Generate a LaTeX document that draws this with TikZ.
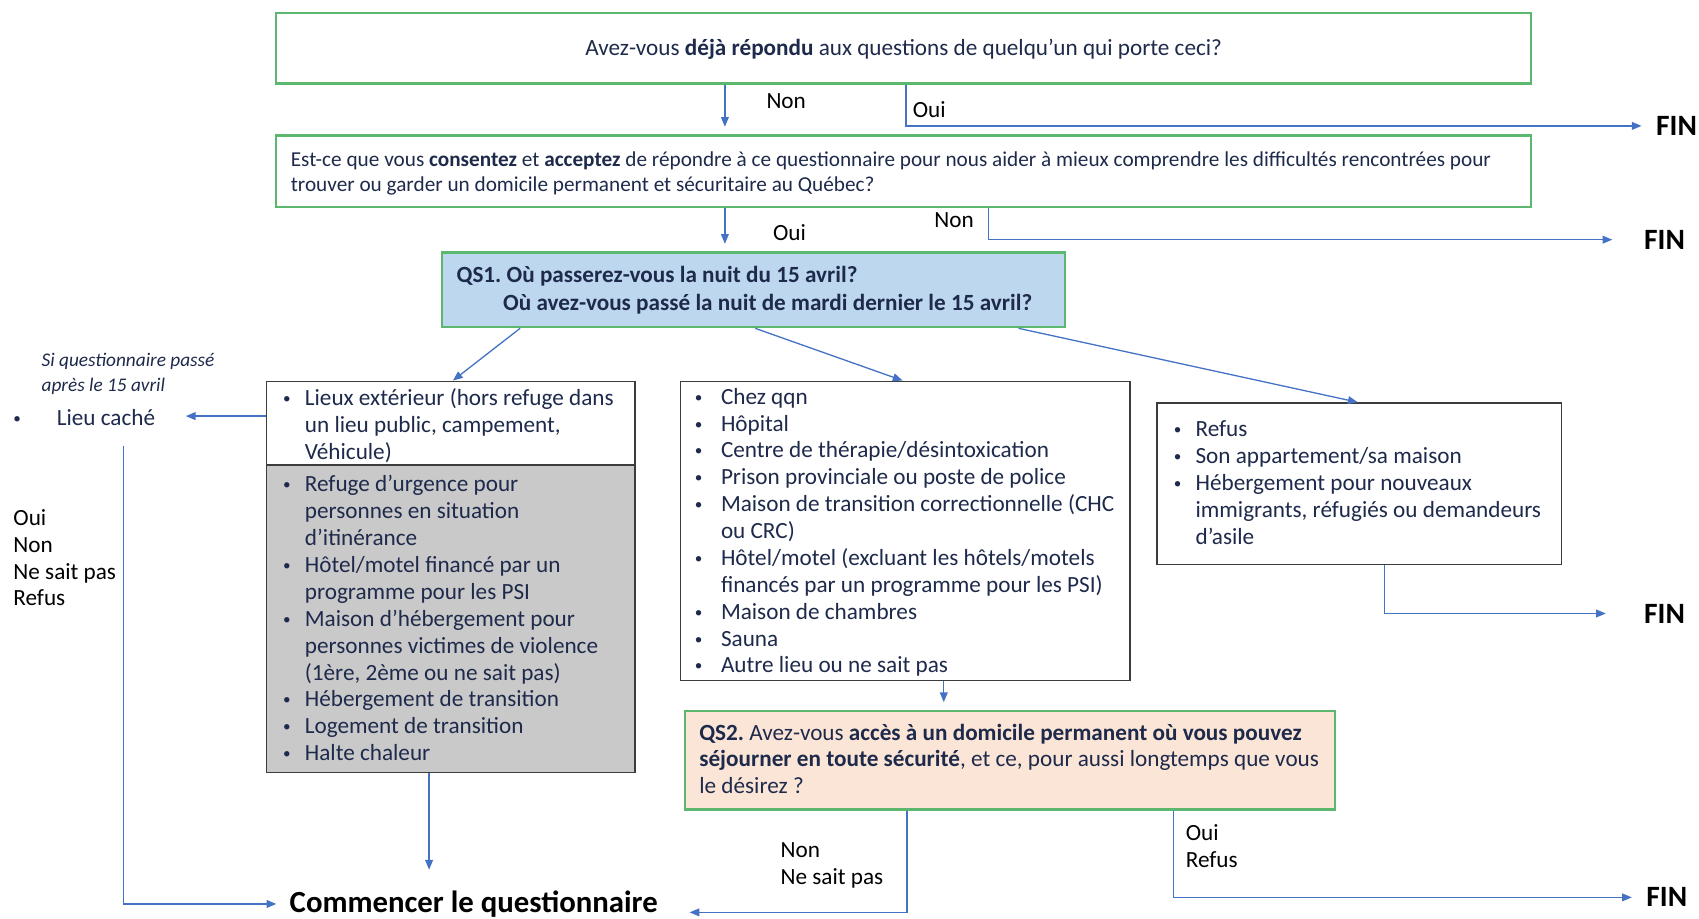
\documentclass[tikz,border=0pt]{standalone}
\usepackage{fontspec}
\setmainfont{Carlito}
\usetikzlibrary{arrows.meta,fit}
\definecolor{gborder}{RGB}{92,184,110}
\definecolor{kborder}{RGB}{60,60,60}
\definecolor{ablue}{RGB}{68,114,196}
\definecolor{ink}{RGB}{30,42,75}
\definecolor{qsblue}{RGB}{189,215,238}
\definecolor{qspeach}{RGB}{251,229,214}
\definecolor{boxgray}{RGB}{201,201,201}
\newcommand{\smbul}{\raisebox{0.9pt}{\fontsize{7}{7}\selectfont •}}
\newcommand{\bul}[1]{\makebox[#1][l]{\smbul}}
\newcommand{\ind}[1]{\hspace*{#1}}
\frenchspacing
\begin{document}
\begin{tikzpicture}[x=0.5pt,y=-0.5pt,
  gbox/.style={draw=gborder, line width=1pt, inner sep=0pt},
  kbox/.style={draw=kborder, line width=0.8pt, inner sep=0pt},
  conn/.style={draw=ablue, line width=0.6pt, -{Triangle[length=4.5pt,width=3.6pt]}},
  txt/.style={inner sep=0pt, text=ink, font=\fontsize{10.7}{12.4}\selectfont, anchor=base west, yshift=-1pt},
  lbl/.style={inner sep=0pt, text=black, font=\fontsize{10.7}{12.4}\selectfont, anchor=base west, yshift=-1pt},
  fin/.style={inner sep=0pt, text=black, font=\bfseries\fontsize{13.6}{15}\selectfont, anchor=base west, yshift=-0.5pt}]
\useasboundingbox (0,0) rectangle (1568,848);

% boxes
\node[gbox, fit={(255,12)(1413,77)}] (q0) {};
\node[gbox, fit={(255,125)(1413,191)}] (q1) {};
\node[gbox, fill=qsblue, fit={(408,233)(983,302)}] (qs1) {};
\node[kbox, fill=white, fit={(246,352)(586,429)}] (lup) {};
\node[kbox, fill=boxgray, fit={(246,429)(586,713)}] (lgray) {};
\node[kbox, fill=white, fit={(628,352)(1043,628)}] (mbox) {};
\node[kbox, fill=white, fit={(1068,372)(1441,521)}] (rbox) {};
\node[gbox, fill=qspeach, fit={(632,656)(1232,747)}] (qs2) {};

% texts in boxes
\node[txt, anchor=base] (q0t) at (834,49) {Avez-vous \textbf{déjà répondu} aux questions de quelqu’un qui porte ceci?};
\node[txt, font=\fontsize{9.8}{11.5}\selectfont] (q1t) at (268,152) {\begin{tabular}[t]{@{}l@{}}Est-ce que vous \textbf{consentez} et \textbf{acceptez} de répondre à ce questionnaire pour nous aider à mieux comprendre les difficultés rencontrées pour\\trouver ou garder un domicile permanent et sécuritaire au Québec?\end{tabular}};
\node[txt, font=\bfseries\fontsize{10.7}{13}\selectfont] (qs1t) at (421,259) {\begin{tabular}[t]{@{}l@{}}QS1. Où passerez-vous la nuit du 15 avril?\\\ind{21.5pt}Où avez-vous passé la nuit de mardi dernier le 15 avril?\end{tabular}};
\node[txt] (lupt) at (261,372) {\begin{tabular}[t]{@{}l@{}}\bul{10pt}Lieux extérieur (hors refuge dans\\\ind{10pt}un lieu public, campement,\\\ind{10pt}Véhicule)\end{tabular}};
\node[txt] (lgrayt) at (261,452) {\begin{tabular}[t]{@{}l@{}}\bul{10pt}Refuge d’urgence pour\\\ind{10pt}personnes en situation\\\ind{10pt}d’itinérance\\
\bul{10pt}Hôtel/motel financé par un\\\ind{10pt}programme pour les PSI\\
\bul{10pt}Maison d’hébergement pour\\\ind{10pt}personnes victimes de violence\\\ind{10pt}(1ère, 2ème ou ne sait pas)\\
\bul{10pt}Hébergement de transition\\
\bul{10pt}Logement de transition\\
\bul{10pt}Halte chaleur\end{tabular}};
\node[txt] (mboxt) at (641,371) {\begin{tabular}[t]{@{}l@{}}\bul{12pt}Chez qqn\\
\bul{12pt}Hôpital\\
\bul{12pt}Centre de thérapie/désintoxication\\
\bul{12pt}Prison provinciale ou poste de police\\
\bul{12pt}Maison de transition correctionnelle (CHC\\\ind{12pt}ou CRC)\\
\bul{12pt}Hôtel/motel (excluant les hôtels/motels\\\ind{12pt}financés par un programme pour les PSI)\\
\bul{12pt}Maison de chambres\\
\bul{12pt}Sauna\\
\bul{12pt}Autre lieu ou ne sait pas\end{tabular}};
\node[txt] (rboxt) at (1083,401) {\begin{tabular}[t]{@{}l@{}}\bul{10pt}Refus\\
\bul{10pt}Son appartement/sa maison\\
\bul{10pt}Hébergement pour nouveaux\\\ind{10pt}immigrants, réfugiés ou demandeurs\\\ind{10pt}d’asile\end{tabular}};
\node[txt, font=\fontsize{10.7}{12.25}\selectfont] (qs2t) at (645,681) {\begin{tabular}[t]{@{}l@{}}\textbf{QS2.} Avez-vous \textbf{accès à un domicile permanent où vous pouvez}\\\textbf{séjourner en toute sécurité}, et ce, pour aussi longtemps que vous\\le désirez ?\end{tabular}};

% free texts
\node[txt, font=\itshape\fontsize{8.9}{11.5}\selectfont] (note) at (38,336) {\begin{tabular}[t]{@{}l@{}}Si questionnaire passé\\après le 15 avril\end{tabular}};
\node[txt] (lieub) at (12,391) {\smbul};
\node[txt] (lieu) at (52,391) {Lieu caché};
\node[lbl, font=\fontsize{10.7}{12.35}\selectfont] (ans1) at (12,483) {\begin{tabular}[t]{@{}l@{}}Oui\\Non\\Ne sait pas\\Refus\end{tabular}};
\node[fin, font=\bfseries\fontsize{14.2}{16}\selectfont] (comm) at (267,841) {Commencer le questionnaire};
\node[lbl] (n1) at (707,98) {Non};
\node[lbl] (o1) at (842,106) {Oui};
\node[lbl] (o2) at (713,220) {Oui};
\node[lbl] (n2) at (862,208) {Non};
\node[lbl, font=\fontsize{10.7}{12.5}\selectfont] (ans2) at (720,789) {\begin{tabular}[t]{@{}l@{}}Non\\Ne sait pas\end{tabular}};
\node[lbl, font=\fontsize{10.7}{12.5}\selectfont] (ans3) at (1094,774) {\begin{tabular}[t]{@{}l@{}}Oui\\Refus\end{tabular}};
\node[fin] (fin1) at (1528,124) {FIN};
\node[fin] (fin2) at (1517,229) {FIN};
\node[fin] (fin3) at (1517,574) {FIN};
\node[fin] (fin4) at (1519,836) {FIN};

% connectors
\draw[conn, shorten >=3.5pt] (q0.south -| 669,0) -- (q1.north -| 669,0);
\draw[conn, shorten >=6.5pt] (q0.south -| 836,0) |- (fin1.west);
\draw[conn, shorten >=3.5pt] (q1.south -| 669,0) -- (qs1.north -| 669,0);
\draw[conn, shorten >=14.5pt] (q1.south -| 912,0) |- (fin2.west);
\draw[conn] (qs1.south -| 480,0) -- (lup.north -| 418,0);
\draw[conn] (qs1.south -| 697,0) -- (mbox.north -| 833,0);
\draw[conn] (qs1.south -| 940,0) -- (rbox.north -| 1253,0);
\draw[conn, shorten >=14pt] (lup.west |- 0,384) -- (lieu.east |- 0,384);
\draw[conn, shorten <=9pt, shorten >=6pt] (lieu.south -| 114,0) |- (comm.west);
\draw[conn, shorten >=9.5pt] (lgray.south -| 396,0) -- (comm.north -| 396,0);
\draw[conn, shorten >=3.5pt] (mbox.south -| 871,0) -- (qs2.north -| 871,0);
\draw[conn, shorten >=17.5pt] (rbox.south -| 1278,0) |- (fin3.west);
\draw[conn, shorten >=14.5pt] (qs2.south -| 837,0) -- (837,842) -- (comm.east |- 0,842);
\draw[conn, shorten >=6.5pt] (qs2.south -| 1083,0) |- (fin4.west);
\end{tikzpicture}
\end{document}
